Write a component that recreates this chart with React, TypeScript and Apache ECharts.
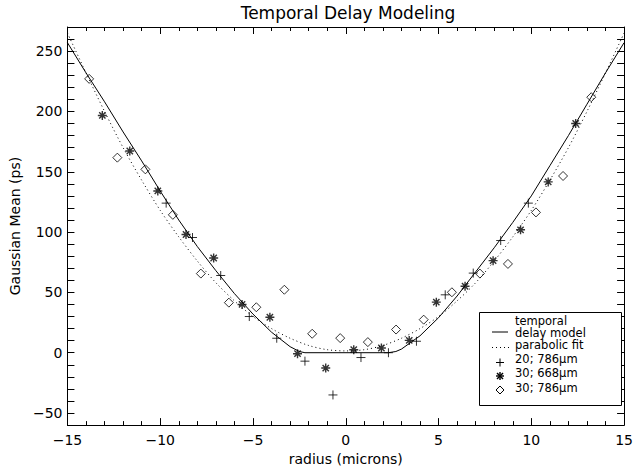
import { useEffect, useRef } from "react";
import * as echarts from "echarts";

// ---- data ----
const xTickValues = [-15, -10, -5, 0, 5, 10, 15];
const yMajorTicks = [-50, 0, 50, 100, 150, 200, 250];
const yTickStep = 10;

// temporal delay model (solid)
const modelX = [-15, -14, -13, -12, -11, -10, -9, -8, -7, -6, -5, -4, -3, -2.5, -2.2, 2.3, 2.7, 3, 3.5, 4, 5, 6, 7, 8, 9, 10, 11, 12, 13, 14, 15];
const modelY = [257, 232, 208, 183, 159, 134, 110, 88, 68, 49, 32, 17, 5, 1, 0, 0, 1, 3, 8.5, 14, 29, 47, 67, 87, 108, 130, 155, 180, 206, 232, 257];

// parabolic fit (dotted)
const fitX = [-15, -14, -13, -12, -11, -10, -9, -8, -7, -6, -5, -4, -3, -2, -1, 0, 1, 2, 3, 4, 5, 6, 7, 8, 9, 10, 11, 12, 13, 14, 15];
const fitY = [265, 232, 200, 170, 143, 118, 96, 76, 58, 43, 30, 20, 12, 6, 2.5, 1.5, 2.5, 6, 12, 20, 30, 43, 58, 76, 96, 118, 143, 170, 200, 232, 265];

// 20; 786um (plus)
const plusX = [-9.68, -8.26, -6.74, -5.2, -3.72, -2.2, -0.69, 0.82, 2.3, 3.81, 5.36, 6.87, 8.35, 9.84];
const plusY = [124, 95.5, 64, 30, 12, -7, -35, -4, 0, 9.5, 48, 66, 93, 124];

// 30; 668um (asterisk)
const starX = [-13.12, -11.64, -10.13, -8.61, -7.12, -5.59, -4.09, -2.6, -1.08, 0.43, 1.92, 3.42, 4.88, 6.43, 7.94, 9.42, 10.91, 12.39];
const starY = [196.7, 167.2, 134.1, 98, 78.5, 40, 29.4, -0.8, -12.7, 2.5, 3.9, 10.2, 41.9, 55.1, 76.3, 101.9, 141.6, 190];

// 30; 786um (diamond)
const diaX = [-13.83, -12.31, -10.8, -9.32, -7.81, -6.3, -4.82, -3.31, -1.81, -0.3, 1.19, 2.71, 4.2, 5.72, 7.23, 8.74, 10.25, 11.71, 13.23];
const diaY = [227, 161.7, 152, 114.3, 65.6, 41.5, 37.7, 52.2, 15.7, 12.1, 8.8, 19.2, 27.4, 50.1, 65.6, 73.6, 116.3, 146.5, 211.8];

const legendLabels = ["temporal\ndelay model", "parabolic fit", "20; 786\u03bcm", "30; 668\u03bcm", "30; 786\u03bcm"];

const FONT = "DejaVu Sans";
const zip = (xs: number[], ys: number[]) => xs.map((x, i) => [x, ys[i]]);
const minus = (v: number) => String(v).replace("-", "\u2212");

const PLUS = "path://M0,5L10,5M5,0L5,10";
const STAR = "path://M0,5L10,5M5,0L5,10M1.5,1.5L8.5,8.5M1.5,8.5L8.5,1.5";
const DIAMOND = "path://M5,0L10,5L5,10L0,5Z";

export default function App() {
  const ref = useRef<HTMLDivElement>(null);
  useEffect(() => {
    if (!ref.current) return;
    const chart = echarts.init(ref.current, null, { renderer: "svg" });
    const black = "#000";
    const line = { show: true, onZero: false, lineStyle: { color: black, width: 1 } };
    const baseX = {
      type: "value",
      min: -15,
      max: 15,
      interval: 5,
      axisLine: line,
      axisTick: { show: true, inside: true, length: 7, lineStyle: { color: black, width: 1 } },
      minorTick: { show: true, splitNumber: 5, length: 4, lineStyle: { color: black, width: 1 } },
      splitLine: { show: false },
      minorSplitLine: { show: false },
    };
    // y: extent -60..270 with a tick every 10 (min is a multiple of the step); labels only at the 50s
    const baseY = (position: string) => ({
      type: "value",
      min: -60,
      max: 270,
      interval: yTickStep,
      position,
      axisLine: line,
      axisTick: { show: true, inside: true, length: 7, lineStyle: { color: black, width: 1 } },
      splitLine: { show: false },
    });
    const symbolSeries = (name: string, xs: number[], ys: number[], symbol: string, size: number, bw: number) => ({
      name,
      type: "scatter",
      data: zip(xs, ys),
      symbol,
      symbolSize: size,
      symbolKeepAspect: true,
      itemStyle: { color: "rgba(0,0,0,0)", borderColor: black, borderWidth: bw },
      silent: true,
      z: 3,
    });
    const legendText = (t: string, y: number) => ({
      type: "text",
      x: 515,
      y,
      z: 21,
      style: { text: t, font: `11.5px "${FONT}"`, lineHeight: 11.5, fill: black, align: "left", verticalAlign: "middle" },
    });
    const lg = (x1: number, y1: number, x2: number, y2: number, w: number, dash?: number[]) => ({
      type: "line",
      z: 21,
      shape: { x1, y1, x2, y2 },
      style: dash ? { stroke: black, lineWidth: w, lineDash: dash } : { stroke: black, lineWidth: w },
    });
    chart.setOption({
      animation: false,
      backgroundColor: "#fff",
      grid: { left: 67, right: 7, top: 27, bottom: 44, containLabel: false },
      xAxis: [
        {
          ...baseX,
          position: "bottom",
          axisLabel: {
            show: true,
            color: black,
            fontFamily: FONT,
            fontSize: 14,
            margin: 8,
            customValues: xTickValues,
            formatter: (v: number) => minus(v),
          },
          name: "radius (microns)",
          nameLocation: "middle",
          nameGap: 17,
          nameTextStyle: { color: black, fontFamily: FONT, fontSize: 14 },
        },
        { ...baseX, position: "top", axisLabel: { show: false } },
      ],
      yAxis: [
        {
          ...baseY("left"),
          axisLabel: {
            show: true,
            color: black,
            fontFamily: FONT,
            fontSize: 14,
            margin: 5,
            customValues: yMajorTicks,
            formatter: (v: number) => minus(v),
          },
          name: "Gaussian Mean (ps)",
          nameLocation: "middle",
          nameRotate: 90,
          nameGap: 44,
          nameTextStyle: { color: black, fontFamily: FONT, fontSize: 14 },
        },
        { ...baseY("right"), axisLabel: { show: false } },
      ],
      series: [
        {
          name: "temporal delay model",
          type: "line",
          data: zip(modelX, modelY),
          showSymbol: false,
          symbol: "none",
          lineStyle: { color: black, width: 1 },
          silent: true,
          z: 2,
        },
        {
          name: "parabolic fit",
          type: "line",
          data: zip(fitX, fitY),
          smooth: 0.3,
          showSymbol: false,
          symbol: "none",
          lineStyle: { color: black, width: 1, type: [1, 3] },
          silent: true,
          z: 2,
        },
        symbolSeries("20; 786\u03bcm", plusX, plusY, PLUS, 9, 1),
        symbolSeries("30; 668\u03bcm", starX, starY, STAR, 9, 1.4),
        symbolSeries("30; 786\u03bcm", diaX, diaY, DIAMOND, 9, 1),
      ],
      graphic: [
        {
          type: "text",
          x: 348,
          y: 13,
          style: { text: "Temporal Delay Modeling", font: `17px "${FONT}"`, fill: black, align: "center", verticalAlign: "middle" },
        },
        {
          type: "rect",
          z: 20,
          shape: { x: 479.5, y: 312.5, width: 142, height: 93 },
          style: { fill: "#fff", stroke: black, lineWidth: 1 },
        },
        legendText(legendLabels[0], 327),
        legendText(legendLabels[1], 345),
        legendText(legendLabels[2], 359),
        legendText(legendLabels[3], 373),
        legendText(legendLabels[4], 387.5),
        lg(492, 332, 508, 332, 1),
        lg(492, 347.5, 509, 347.5, 1, [1, 3]),
        lg(496, 362.5, 504, 362.5, 1),
        lg(500, 358.5, 500, 366.5, 1),
        lg(496, 376, 504, 376, 1.4),
        lg(500, 372, 500, 380, 1.4),
        lg(497, 373, 503, 379, 1.4),
        lg(497, 379, 503, 373, 1.4),
        {
          type: "polygon",
          z: 21,
          shape: { points: [[500, 386], [504, 390], [500, 394], [496, 390]] },
          style: { fill: "none", stroke: black, lineWidth: 1 },
        },
      ],
    });
    return () => chart.dispose();
  }, []);
  return <div ref={ref} style={{ position: "absolute", left: 0, top: 0, width: 636, height: 471 }} />;
}
